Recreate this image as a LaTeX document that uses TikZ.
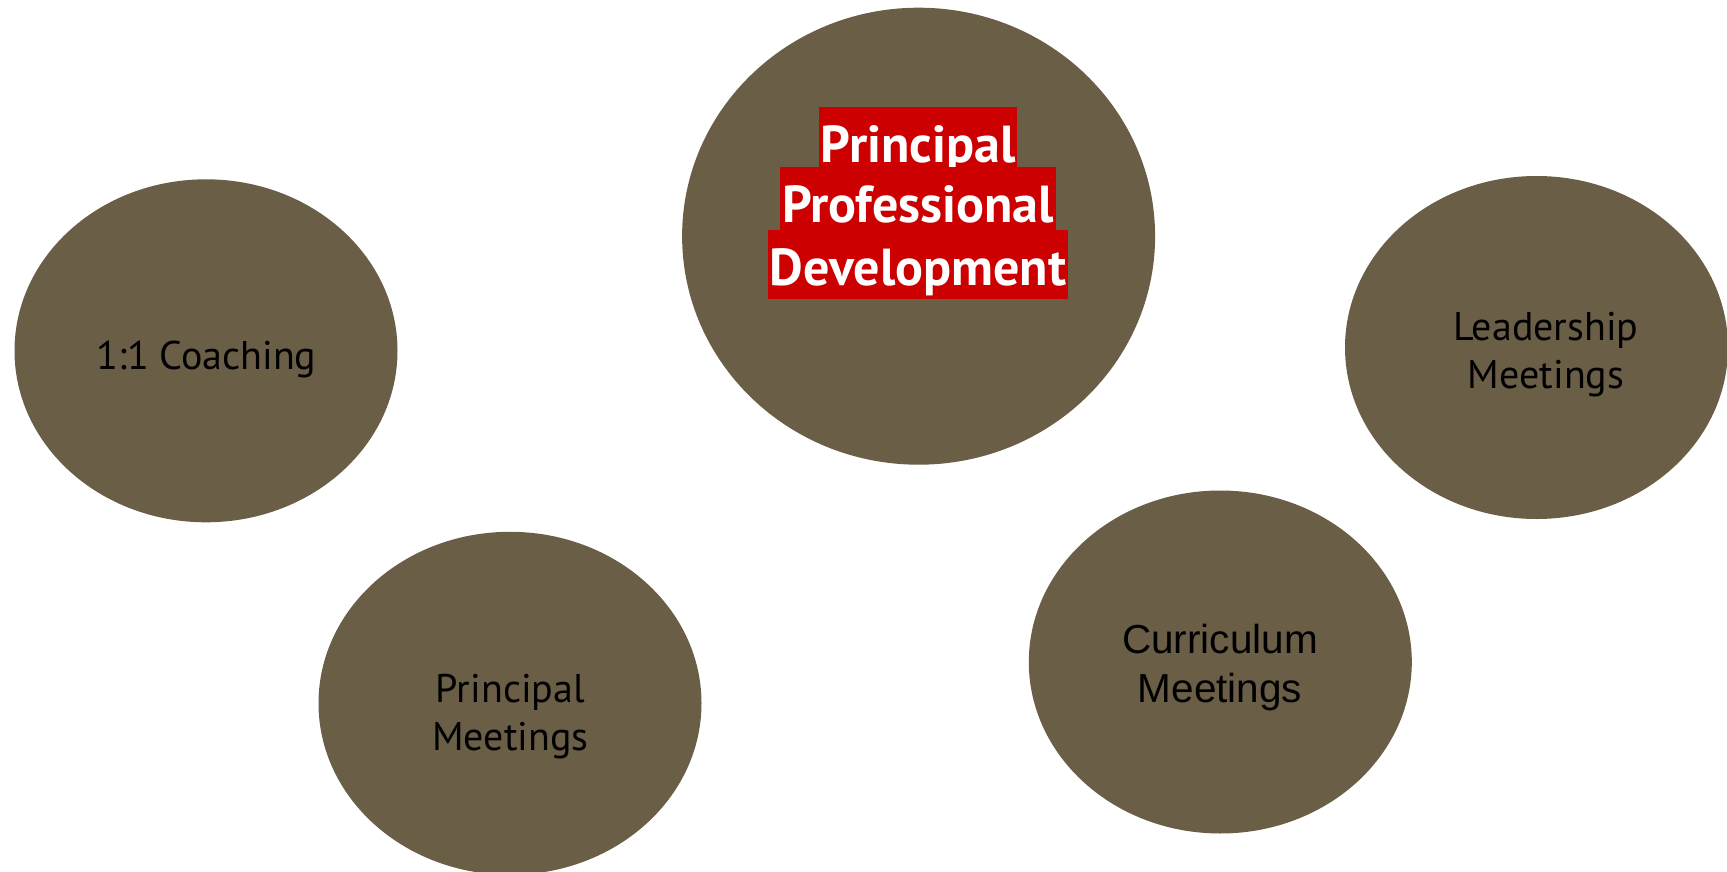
\documentclass[tikz,border=0pt]{standalone}
\usepackage{fontspec}
\setmainfont{PT Sans}
\newfontfamily\arialfont{Liberation Sans}
\usepackage{tikz}
\usetikzlibrary{shapes.geometric}

\definecolor{bubble}{RGB}{106,94,71}
\definecolor{titlered}{RGB}{204,0,0}

\tikzset{
  bubble/.style={ellipse, fill=bubble, inner sep=0pt},
  lbl/.style={anchor=base, align=center, text=black, font=\fontsize{40}{48}\selectfont},
  titleline/.style={anchor=base, fill=titlered, text=white, inner xsep=2pt, inner ysep=0pt,
    text height=55pt, text depth=14pt, font=\fontsize{52}{60}\selectfont\bfseries}
}

\begin{document}
\begin{tikzpicture}[x=1pt,y=-1pt]
  \useasboundingbox (0,0) rectangle (1727,872);
  \clip (0,0) rectangle (1727,872);

  % bubbles
  \node[bubble, minimum width=473pt, minimum height=457pt] (ppd) at (918.6,236.2) {};
  \node[bubble, minimum width=383pt, minimum height=343pt] (coach) at (206,350.8) {};
  \node[bubble, minimum width=383pt, minimum height=343pt] (lead) at (1536.5,347.5) {};
  \node[bubble, minimum width=383pt, minimum height=343pt] (pmeet) at (510,703.3) {};
  \node[bubble, minimum width=383pt, minimum height=343pt] (curr) at (1220.3,662) {};

  % title, one red band per line
  \node[titleline] (ppd1) at (918,162) {Principal};
  \node[titleline] (ppd2) at (918,222) {Professional};
  \node[titleline] (ppd3) at (918,285) {Development};

  % labels (base = last line)
  \node[lbl] (coachtxt) at (206.5,369) {1:1 Coaching};
  \node[lbl] (leadtxt) at (1546,388) {Leadership\\Meetings};
  \node[lbl] (pmeettxt) at (510.5,750) {Principal\\Meetings};
  \node[lbl, font=\arialfont\fontsize{40.5}{49}\selectfont] (currtxt) at (1220,702) {\arialfont Curriculum\\\arialfont Meetings};
\end{tikzpicture}
\end{document}
